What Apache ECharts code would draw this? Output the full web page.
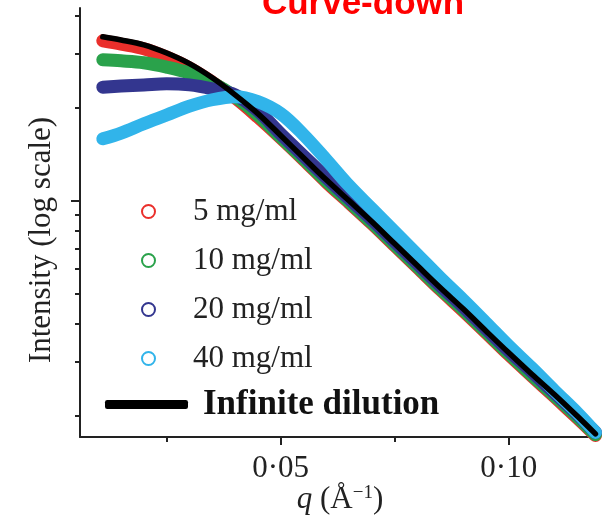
<!DOCTYPE html>
<html><head><meta charset="utf-8">
<script src="https://cdn.jsdelivr.net/npm/echarts@6/dist/echarts.min.js"></script>
<style>html,body{margin:0;padding:0;background:#fff}#c{width:611px;height:525px}</style>
</head><body><div id="c"></div><script>
// scattering vector q (1/Å)
const q = [0.011, 0.015, 0.02, 0.025, 0.03, 0.035, 0.04, 0.045, 0.05, 0.055, 0.06, 0.065, 0.07, 0.075, 0.08, 0.085, 0.09, 0.095, 0.1, 0.105, 0.11, 0.115, 0.119];
// intensities (arbitrary units, log scale)
const conc5 = [3.31,3.23,3.12,2.93,2.70,2.43,2.16,1.87,1.60,1.36,1.15,0.985,0.842,0.714,0.606,0.514,0.439,0.373,0.316,0.270,0.231,0.197,0.173];
const conc10 = [2.87,2.85,2.81,2.72,2.60,2.42,2.18,1.90,1.61,1.37,1.16,0.993,0.848,0.720,0.611,0.518,0.443,0.376,0.319,0.272,0.233,0.199,0.174];
const conc20 = [2.34,2.36,2.38,2.40,2.38,2.31,2.21,1.96,1.65,1.40,1.19,1.015,0.868,0.736,0.624,0.530,0.453,0.384,0.326,0.279,0.238,0.203,0.177];
const conc40 = [1.59,1.66,1.78,1.90,2.03,2.13,2.18,2.10,1.92,1.64,1.36,1.12,0.942,0.793,0.668,0.562,0.477,0.402,0.338,0.287,0.242,0.205,0.177];
const infinite = [3.41,3.33,3.21,3.02,2.79,2.51,2.21,1.92,1.63,1.38,1.17,1.00,0.855,0.725,0.615,0.522,0.446,0.378,0.321,0.274,0.235,0.200,0.175];

const seriesNames = ['5 mg/ml', '10 mg/ml', '20 mg/ml', '40 mg/ml'];
const lineName = 'Infinite dilution';
const xMinorTicks = [0.025, 0.075];
const xMajorTicks = [0.05, 0.10];
const yMinorTicks = [0.2, 0.3, 0.4, 0.5, 0.6, 0.7, 0.8, 0.9, 2, 3, 4];
const yMajorTicks = [1];

const colors = ['#ea2f2b', '#2aa24b', '#33368f', '#31b4ea'];
const serif = '"Liberation Serif", "Times New Roman", serif';
const axisColor = '#222';

const chart = echarts.init(document.getElementById('c'), null, {renderer: 'canvas'});
const concData = [conc5, conc10, conc20, conc40];

const xBase = {type: 'value', min: 0.006, max: 0.12, position: 'bottom', splitLine: {show: false}};
const yBase = {type: 'log', min: 0.171, max: 4.23, position: 'left', splitLine: {show: false}, axisLabel: {show: false}};

const series = concData.map((vals, k) => ({
  name: seriesNames[k], type: 'line', xAxisIndex: 0, yAxisIndex: 0,
  data: q.map((x, i) => [x, vals[i]]),
  showSymbol: false, smooth: 0.35, z: 2 + k,
  lineStyle: {width: 13, color: colors[k], cap: 'round', join: 'round'},
  itemStyle: {color: colors[k]}
}));
series.push({
  name: lineName, type: 'line', xAxisIndex: 0, yAxisIndex: 0,
  data: q.map((x, i) => [x, infinite[i]]),
  showSymbol: false, smooth: 0.35, z: 10,
  lineStyle: {width: 5.5, color: '#000', cap: 'round', join: 'round'},
  itemStyle: {color: '#000'}
});

chart.setOption({
  animation: false,
  backgroundColor: '#fff',
  grid: {left: 80, right: 11, top: 8, bottom: 88, containLabel: false, outerBoundsMode: 'none'},
  xAxis: [
    Object.assign({}, xBase, {
      axisLine: {show: true, lineStyle: {color: axisColor, width: 2}},
      axisTick: {show: true, length: 5, lineStyle: {color: axisColor, width: 2}, customValues: xMinorTicks},
      axisLabel: {show: false},
      name: '{i|q} (Å{s|−1})', nameLocation: 'middle', nameGap: 47,
      nameTextStyle: {fontFamily: serif, fontSize: 31, color: axisColor,
        rich: {i: {fontFamily: serif, fontSize: 31, fontStyle: 'italic', color: axisColor},
               s: {fontFamily: serif, fontSize: 19, verticalAlign: 'top', color: axisColor}}}
    }),
    Object.assign({}, xBase, {
      axisLine: {show: false},
      axisTick: {show: true, length: 8, lineStyle: {color: axisColor, width: 2}, customValues: xMajorTicks},
      axisLabel: {show: true, customValues: xMajorTicks, margin: 16, fontFamily: serif, fontSize: 31, color: axisColor,
        formatter: v => Number(v).toFixed(2).replace('.', '·')}
    })
  ],
  yAxis: [
    Object.assign({}, yBase, {
      axisLine: {show: true, lineStyle: {color: axisColor, width: 2}},
      axisTick: {show: true, length: 5, lineStyle: {color: axisColor, width: 2}, customValues: yMinorTicks}
    }),
    Object.assign({}, yBase, {
      axisLine: {show: false},
      axisTick: {show: true, length: 9, lineStyle: {color: axisColor, width: 2}, customValues: yMajorTicks}
    })
  ],
  legend: [
    {
      data: seriesNames.map((n, k) => ({name: n, icon: 'circle',
        itemStyle: {color: '#fff', borderColor: colors[k], borderWidth: 2}})),
      orient: 'vertical', left: 141, top: 196, padding: 0,
      itemWidth: 13, itemHeight: 13, itemGap: 18, selectedMode: false,
      textStyle: {fontFamily: serif, fontSize: 31, lineHeight: 31, color: axisColor, padding: [0, 0, 0, 33]}
    },
    {
      data: [{name: lineName, icon: 'roundRect', itemStyle: {color: '#000', borderWidth: 0}}],
      orient: 'vertical', left: 105, top: 387, padding: 0,
      itemWidth: 83, itemHeight: 9, selectedMode: false,
      textStyle: {fontFamily: serif, fontSize: 35, fontWeight: 'bold', lineHeight: 35, color: '#111', padding: [0, 0, 0, 10]}
    }
  ],
  graphic: [
    {type: 'text', x: 363, y: 4, z: 100,
     style: {text: 'Curve-down', font: 'bold 35px "Liberation Sans", Arial, sans-serif', fill: '#ff0000', align: 'center', verticalAlign: 'middle'}},
    {type: 'text', x: 42, y: 240, rotation: Math.PI / 2,
     style: {text: 'Intensity (log scale)', font: '31px ' + serif, fill: axisColor, align: 'center', verticalAlign: 'middle'}}
  ],
  series: series
});
</script></body></html>
